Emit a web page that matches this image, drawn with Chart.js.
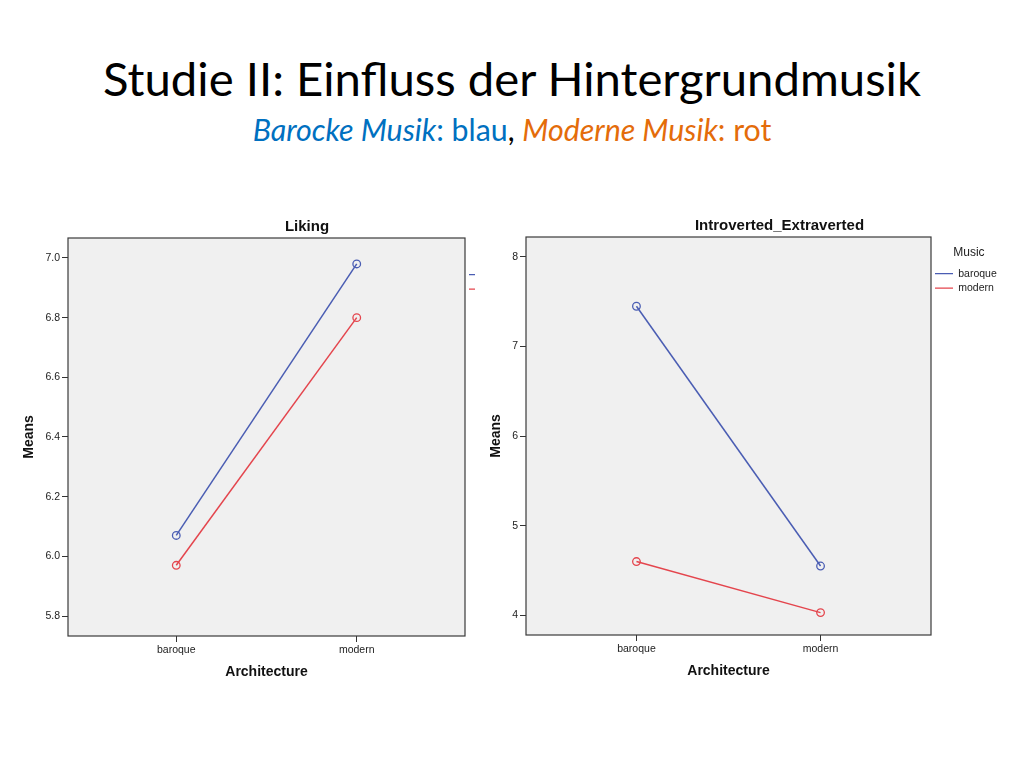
<!DOCTYPE html>
<html>
<head>
<meta charset="utf-8">
<script src="https://cdn.jsdelivr.net/npm/chart.js@4.4.0/dist/chart.umd.min.js"></script>
<style>
  html, body { margin: 0; padding: 0; background: #fff; width: 1024px; height: 768px; overflow: hidden; }
  .heading { position: absolute; left: 0; width: 1024px; text-align: center; white-space: nowrap; line-height: 1;
             font-family: Lato, "Open Sans", sans-serif; }
  .heading span.fit { display: inline-block; }
  #title { top: 54px; font-size: 41px; color: #000; }
  #subtitle { top: 114px; font-size: 26px; color: #000; }
  .blue { color: #0070C0; }
  .orange { color: #E46C0A; }
  #wrapLeft { position: absolute; left: 15px; top: 205px; width: 460px; height: 485px; overflow: hidden; }
  #boxLeft { position: relative; width: 560px; height: 485px; }
  #wrapRight { position: absolute; left: 485px; top: 205px; width: 539px; height: 485px; overflow: hidden; }
  #boxRight { position: relative; width: 539px; height: 485px; }
</style>
</head>
<body>
<div id="title" class="heading"><span class="fit">Studie II: Einfluss der Hintergrundmusik</span></div>
<div id="subtitle" class="heading"><span class="fit"><i class="blue">Barocke Musik</i><span class="blue">: blau</span>, <i class="orange">Moderne Musik</i><span class="orange">: rot</span></span></div>
<div id="wrapLeft"><div id="boxLeft"><canvas id="liking"></canvas></div></div>
<div id="wrapRight"><div id="boxRight"><canvas id="extra"></canvas></div></div>
<script>
// categories and series
var architecture = ['baroque', 'modern'];
var music = ['baroque', 'modern'];

var likingBaroque = [6.07, 6.98];
var likingModern = [5.97, 6.80];
var likingTicks = [5.8, 6.0, 6.2, 6.4, 6.6, 6.8, 7.0];

var extraBaroque = [7.45, 4.55];
var extraModern = [4.60, 4.03];
var extraTicks = [4, 5, 6, 7, 8];

var BLUE = '#4a5db3';
var RED = '#e4454d';
var FONT = '"Liberation Sans", Arial, sans-serif';

// stretch the slide headings to the width they have in the slide
function fitWidth(id, target) {
    var span = document.querySelector('#' + id + ' span.fit');
    var el = document.getElementById(id);
    var size = parseFloat(getComputedStyle(el).fontSize);
    var w = span.getBoundingClientRect().width;
    el.style.fontSize = (size * target / w).toFixed(2) + 'px';
}
fitWidth('title', 818);
fitWidth('subtitle', 519);

// grey plot background and frame like SPSS
var plotFrame = {
    id: 'plotFrame',
    beforeDraw: function (chart) {
        var a = chart.chartArea, ctx = chart.ctx;
        ctx.save();
        ctx.fillStyle = '#f0f0f0';
        ctx.fillRect(a.left, a.top, a.right - a.left, a.bottom - a.top);
        ctx.restore();
    },
    beforeDatasetsDraw: function (chart) {
        var a = chart.chartArea, ctx = chart.ctx;
        ctx.save();
        ctx.strokeStyle = '#3a3a3a';
        ctx.lineWidth = 1.2;
        ctx.strokeRect(a.left, a.top, a.right - a.left, a.bottom - a.top);
        ctx.restore();
    }
};

// chart heading centred over the whole SPSS graphic (plot + legend)
var chartHeading = {
    id: 'chartHeading',
    afterDraw: function (chart, args, opts) {
        var ctx = chart.ctx;
        ctx.save();
        ctx.font = 'bold 15px ' + FONT;
        ctx.fillStyle = '#111';
        ctx.textAlign = 'center';
        ctx.textBaseline = 'middle';
        ctx.fillText(opts.text, opts.x, opts.y);
        ctx.restore();
    }
};

function series(label, values, color) {
    return {
        label: label,
        data: values.map(function (v, i) { return {x: i, y: v}; }),
        borderColor: color,
        backgroundColor: color,
        borderWidth: 1.5,
        pointStyle: 'circle',
        pointRadius: 3.8,
        pointBorderWidth: 1.3,
        pointBackgroundColor: 'rgba(0,0,0,0)',
        pointBorderColor: color,
        tension: 0
    };
}

function makeChart(id, g) {
    var config = {
        type: 'line',
        data: {
            datasets: [
                series(music[0], g.baroque, BLUE),
                series(music[1], g.modern, RED)
            ]
        },
        plugins: [plotFrame, chartHeading],
        options: {
            responsive: true,
            maintainAspectRatio: false,
            animation: false,
            events: [],
            layout: { padding: { left: 0, top: g.top, right: 0, bottom: 0 } },
            scales: {
                x: {
                    type: 'linear',
                    min: -0.6,
                    max: 1.6,
                    afterBuildTicks: function (s) {
                        s.ticks = architecture.map(function (c, i) { return {value: i}; });
                    },
                    afterFit: function (s) { s.height = g.xHeight; },
                    ticks: {
                        autoSkip: false,
                        maxRotation: 0,
                        padding: 2,
                        color: '#222',
                        font: { family: FONT, size: 10.5 },
                        callback: function (v) { return architecture[v]; }
                    },
                    grid: { drawOnChartArea: false, color: '#333', tickLength: 6 },
                    border: { display: false },
                    title: {
                        display: true,
                        text: 'Architecture',
                        color: '#111',
                        font: { family: FONT, size: 14, weight: 'bold' },
                        padding: { top: g.xTitlePad, bottom: g.xTitlePad }
                    }
                },
                y: {
                    type: 'linear',
                    min: g.yMin,
                    max: g.yMax,
                    afterBuildTicks: function (s) {
                        s.ticks = g.ticks.map(function (v) { return {value: v}; });
                    },
                    afterFit: function (s) { s.width = g.left; },
                    ticks: {
                        padding: 2,
                        color: '#222',
                        font: { family: FONT, size: 10.5 },
                        callback: function (v) { return v.toFixed(g.decimals); }
                    },
                    grid: { drawOnChartArea: false, color: '#333', tickLength: 6 },
                    border: { display: false },
                    title: {
                        display: true,
                        text: 'Means',
                        color: '#111',
                        font: { family: FONT, size: 14, weight: 'bold' },
                        padding: { top: g.yTitlePad, bottom: g.yTitlePad }
                    }
                }
            },
            plugins: {
                title: { display: false },
                tooltip: { enabled: false },
                chartHeading: { text: g.title, x: g.titleX, y: g.titleY },
                legend: {
                    position: 'right',
                    align: 'start',
                    fullSize: false,
                    labels: {
                        usePointStyle: true,
                        pointStyle: 'line',
                        pointStyleWidth: 18,
                        padding: 4,
                        color: '#222',
                        font: { family: FONT, size: 10.5 }
                    },
                    title: {
                        display: true,
                        text: 'Music',
                        color: '#222',
                        font: { family: FONT, size: 12 },
                        padding: { top: 10, bottom: 3 }
                    }
                }
            }
        }
    };
    var chart = new Chart(document.getElementById(id), config);
    // leave room on the right so the plot ends where it ends in the slide
    chart.options.layout.padding.right = Math.max(0, chart.width - g.right - chart.legend.width);
    chart.update('none');
    return chart;
}

makeChart('liking', {
    title: 'Liking', titleX: 292, titleY: 22,
    baroque: likingBaroque, modern: likingModern, ticks: likingTicks,
    yMin: 5.733, yMax: 7.067, decimals: 1,
    left: 53, top: 33, right: 450, xHeight: 54,
    xTitlePad: 9, yTitlePad: 6
});

makeChart('extra', {
    title: 'Introverted_Extraverted', titleX: 294.5, titleY: 21,
    baroque: extraBaroque, modern: extraModern, ticks: extraTicks,
    yMin: 3.78, yMax: 8.223, decimals: 0,
    left: 41, top: 32, right: 446, xHeight: 55,
    xTitlePad: 10, yTitlePad: 2.6
});
</script>
</body>
</html>
